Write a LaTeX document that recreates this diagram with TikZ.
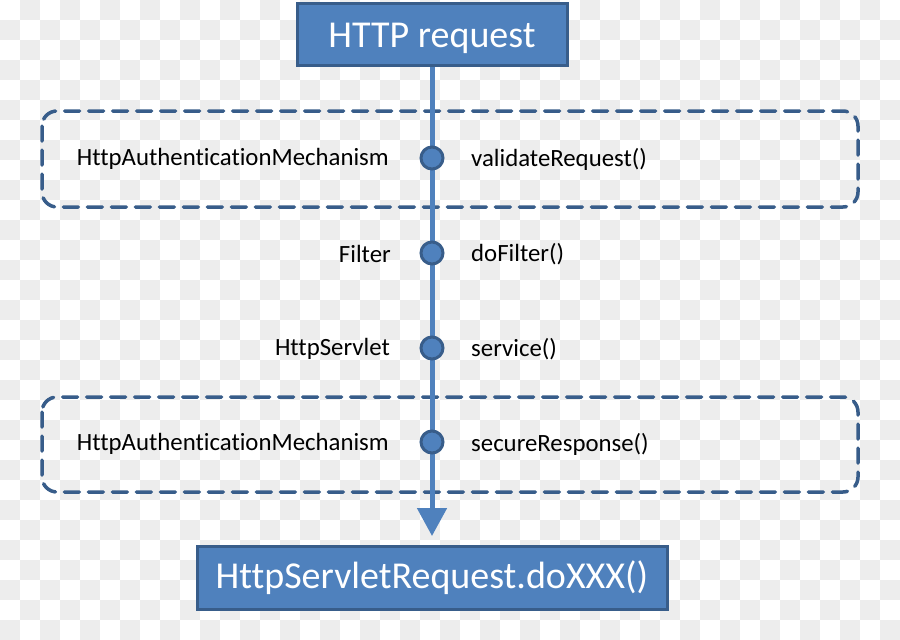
\documentclass[tikz,border=0pt]{standalone}
\usepackage{fontspec}
\setmainfont[Ligatures={NoCommon}]{Carlito}
\usetikzlibrary{arrows.meta}
\definecolor{fillblue}{HTML}{4F81BD}
\definecolor{edgeblue}{HTML}{385D8A}
\definecolor{checker}{HTML}{EDEDED}
\tikzset{
  bigbox/.style={draw=edgeblue, fill=fillblue, line width=3pt, text=white, font=\fontsize{38}{40}\selectfont, inner sep=0pt},
  joint/.style={circle, draw=edgeblue, fill=fillblue, line width=3pt, minimum size=22pt, inner sep=0pt},
  lbl/.style={font=\fontsize{24.8}{27}\selectfont, text=black, inner sep=0pt},
  group/.style={draw=edgeblue, line width=3.5pt, dash pattern=on 15pt off 9pt, rounded corners=15pt, line cap=round},
  flow/.style={draw=fillblue, line width=5pt}
}
\begin{document}
\begin{tikzpicture}[x=1pt,y=-1pt]
\useasboundingbox (0,0) rectangle (900,640);
\fill[white] (0,0) rectangle (900,640);
\foreach \i in {0,...,44}{
  \foreach \j in {0,...,31}{
    \pgfmathtruncatemacro{\parity}{mod(\i+\j,2)}
    \ifnum\parity=1 \fill[checker] (\i*20,\j*20) rectangle ++(20,20); \fi
  }
}
% dashed groups
\draw[group] (42,111) rectangle (858,207);
\draw[group] (42,397) rectangle (858,492);
% boxes
\node[bigbox, minimum width=270pt, minimum height=62pt] (top) at (432,34) {\raisebox{-4pt}[\height][\depth]{HTTP request}};
\node[bigbox, minimum width=470pt, minimum height=63pt] (bot) at (432,577.5) {HttpServletRequest.doXXX()};
\coordinate (tip) at (432,536);
\draw[flow, -{Triangle[width=29pt,length=28pt]}] (top.south) -- (tip);
% joints
\node[joint] (j1) at (432,158) {};
\node[joint] (j2) at (432,253) {};
\node[joint] (j3) at (432,348) {};
\node[joint] (j4) at (432,442) {};
% labels
\node[lbl, anchor=east] (l1) at (389,159) {HttpAuthenticationMechanism};
\node[lbl, anchor=east] (l2) at (391,254) {Filter};
\node[lbl, anchor=east] (l3) at (390,349) {HttpServlet};
\node[lbl, anchor=east] (l4) at (389,444) {HttpAuthenticationMechanism};
\node[lbl, anchor=west] (r1) at (471,159) {validateRequest()};
\node[lbl, anchor=west] (r2) at (471,254) {doFilter()};
\node[lbl, anchor=west] (r3) at (471,349) {service()};
\node[lbl, anchor=west] (r4) at (471,444) {secureResponse()};
\end{tikzpicture}
\end{document}
